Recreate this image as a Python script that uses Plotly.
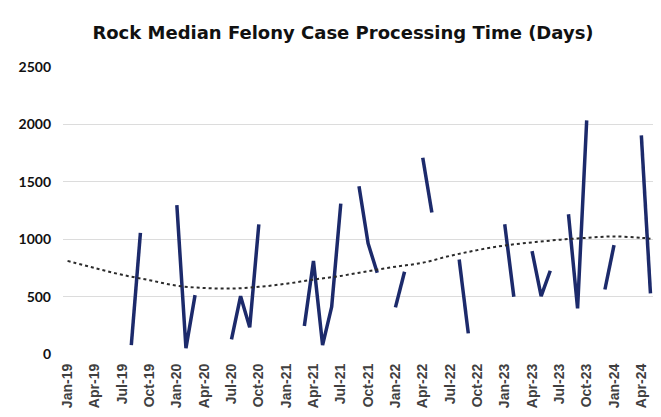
import plotly.graph_objects as go

months = ["Jan", "Feb", "Mar", "Apr", "May", "Jun", "Jul", "Aug", "Sep", "Oct", "Nov", "Dec"]
categories = [f"{m}-{y}" for y in range(19, 25) for m in months][:65]  # Jan-19 .. May-24

values = [
    None, None, None, None, None, None, None, 78, 1055, None, None, None,      # 2019
    1296, 50, 513, None, None, None, 128, 504, 232, 1130, None, None,           # 2020
    None, None, 243, 811, 78, 411, 1310, None, 1461, 963, 707, None,            # 2021
    406, 716, None, 1710, 1232, None, None, 823, 180, None, None, None,         # 2022
    1130, 499, None, 896, 504, 725, None, 1217, 397, 2035, None, 562,           # 2023
    948, None, None, 1904, 528,                                                  # 2024
]

# Trendline values at each quarter (plus the last month)
trend_cats = ["Jan-19", "Apr-19", "Jul-19", "Oct-19", "Jan-20", "Apr-20", "Jul-20", "Oct-20",
              "Jan-21", "Apr-21", "Jul-21", "Oct-21", "Jan-22", "Apr-22", "Jul-22", "Oct-22",
              "Jan-23", "Apr-23", "Jul-23", "Oct-23", "Jan-24", "Apr-24", "May-24"]
trend_vals = [811, 748, 690, 643, 595, 575, 570, 585,
              612, 648, 680, 722, 760, 795, 855, 905,
              945, 972, 995, 1012, 1024, 1012, 1005]

tick_labels = categories[::3]
y_ticks = [0, 500, 1000, 1500, 2000, 2500]

fig = go.Figure()
fig.add_trace(go.Scatter(
    x=categories, y=values, mode="lines", connectgaps=False,
    line=dict(color="#1C2A6B", width=3.5), showlegend=False,
))
fig.add_trace(go.Scatter(
    x=trend_cats, y=trend_vals, mode="lines",
    line=dict(color="#2b2b2b", width=2, dash="dot", shape="spline", smoothing=1.0),
    showlegend=False,
))

# the page body has an 8px margin, so the figure is 8px smaller than the window
fig.update_layout(
    width=653, height=409,
    margin=dict(l=55, r=6, t=59, b=63, autoexpand=False),
    paper_bgcolor="white", plot_bgcolor="white",
    title=dict(text="Rock Median Felony Case Processing Time (Days)",
               x=0.513, xanchor="center", y=1 - 25 / 409, yanchor="middle",
               font=dict(family="DejaVu Sans", size=18, color="#111111", weight="bold")),
    xaxis=dict(type="category", categoryorder="array", categoryarray=categories,
               tickmode="array", tickvals=tick_labels, ticktext=tick_labels,
               tickangle=-90, showgrid=False, showline=False, zeroline=False,
               range=[-0.5, len(categories) - 0.5], ticks="", automargin=False,
               ticklabelstandoff=6,
               tickfont=dict(family="Liberation Sans", size=14, color="#404040", weight="bold")),
    yaxis=dict(range=[0, 2500], tickvals=y_ticks, showgrid=True, gridcolor="#dcdcdc",
               gridwidth=1, zeroline=False, showline=False, ticks="", automargin=False,
               tickfont=dict(family="Lato", size=14, color="#111111", weight="bold"),
               ticklabelstandoff=11),
)

fig.write_html("out.html")
